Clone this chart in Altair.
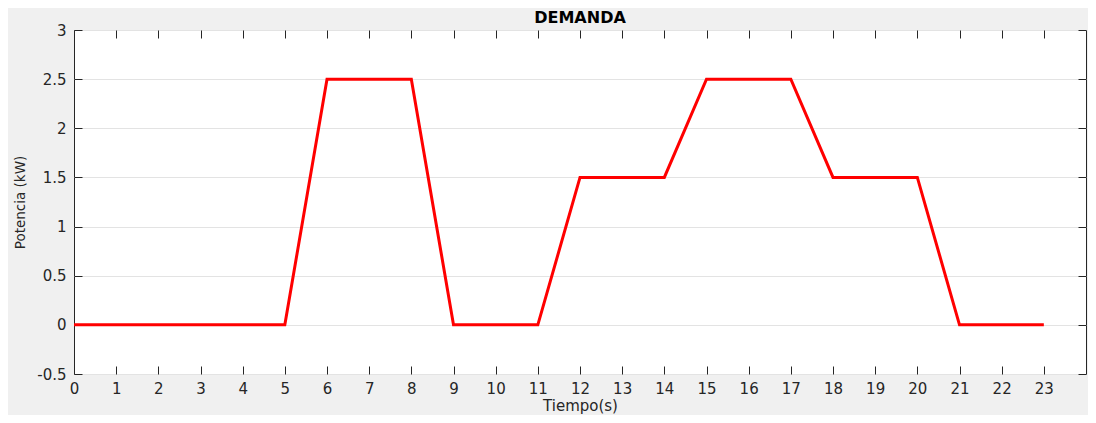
import altair as alt
import pandas as pd

tiempo = list(range(24))
potencia = [0, 0, 0, 0, 0, 0, 2.5, 2.5, 2.5, 0, 0, 0,
            1.5, 1.5, 1.5, 2.5, 2.5, 2.5, 1.5, 1.5, 1.5, 0, 0, 0]
x_ticks = list(range(24))
y_ticks = [-0.5, 0, 0.5, 1, 1.5, 2, 2.5, 3]
x_domain = [0, 24]
y_domain = [-0.5, 3]

df = pd.DataFrame({"t": tiempo, "p": potencia})

FONT = "DejaVu Sans"
TXT = "#262626"
xs = alt.Scale(domain=x_domain, nice=False, zero=False)
ys = alt.Scale(domain=y_domain, nice=False, zero=False)

base = alt.Chart(df)

main = base.mark_line(color="#ff0000", strokeWidth=3).encode(
    x=alt.X("t:Q", scale=xs, title="Tiempo(s)",
            axis=alt.Axis(values=x_ticks, tickSize=0, domain=False, grid=False,
                          labelPadding=7, labelFontSize=15, labelColor=TXT,
                          labelFont=FONT, labelExpr="'' + datum.value",
                          titleFont=FONT, titleFontSize=15, titleFontWeight="normal",
                          titleColor=TXT, titlePadding=2, labelFlush=False)),
    y=alt.Y("p:Q", scale=ys, title="Potencia (kW)",
            axis=alt.Axis(values=y_ticks, tickSize=0, domain=False, grid=True,
                          gridColor="#e3e3e3", gridWidth=1,
                          labelPadding=8, labelFontSize=15, labelColor=TXT,
                          labelFont=FONT, labelExpr="'' + datum.value",
                          titleFont=FONT, titleFontSize=13.5, titleFontWeight="normal",
                          titleColor=TXT, titlePadding=9, labelFlush=False)),
)

tick_axis = dict(tickSize=8, tickColor=TXT, tickWidth=1, domain=False, grid=False,
                 labels=False, title=None, offset=-8)

inner_a = base.mark_line(opacity=0).encode(
    x=alt.X("t:Q", scale=xs, axis=alt.Axis(orient="top", values=x_ticks, **tick_axis)),
    y=alt.Y("p:Q", scale=ys, axis=alt.Axis(orient="right", values=y_ticks, **tick_axis)),
)
inner_b = base.mark_line(opacity=0).encode(
    x=alt.X("t:Q", scale=xs, axis=alt.Axis(orient="bottom", values=x_ticks, **tick_axis)),
    y=alt.Y("p:Q", scale=ys, axis=alt.Axis(orient="left", values=y_ticks, **tick_axis)),
)

chart = alt.layer(main, inner_a, inner_b).resolve_axis(
    x="independent", y="independent"
).properties(
    width=1012, height=344,
    title=alt.TitleParams("DEMANDA", font=FONT, fontSize=16, fontWeight="bold",
                          color="#000000", offset=-3),
    background="#f0f0f0",
    padding={"left": 66, "top": 22, "right": 2, "bottom": 41},
    autosize=alt.AutoSizeParams(type="none"),
).configure_view(
    fill="#ffffff", stroke=TXT, strokeWidth=1
)

chart.save("out.html", embed_options={"renderer": "svg", "actions": False})
